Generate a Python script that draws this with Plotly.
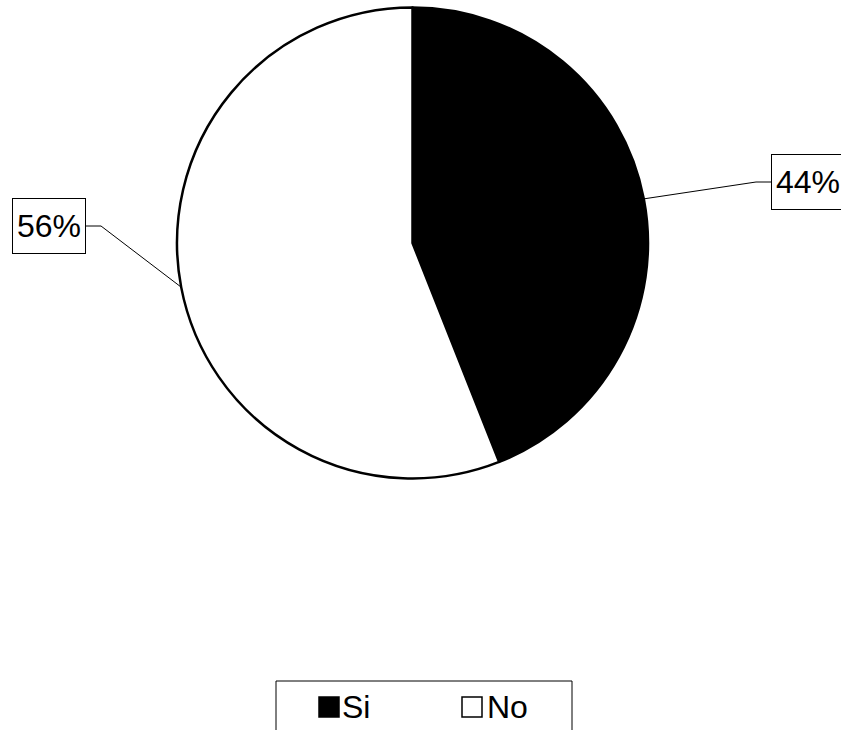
import math
import plotly.graph_objects as go

# ---- data ----
labels = ["Si", "No"]
values = [44, 56]
colors = ["#000000", "#ffffff"]
text_labels = ["44%", "56%"]

# ---- layout constants (pixels) ----
W, H = 841, 730
CX, CY, R = 412.5, 243.0, 235.5
FONT = "Liberation Sans, Arial, sans-serif"
FS = 32

def px(x):
    return x / W

def py(y):
    return 1 - y / H

fig = go.Figure(go.Pie(
    labels=labels, values=values, sort=False, direction="clockwise", rotation=0,
    marker=dict(colors=colors, line=dict(color="black", width=2.5)),
    textinfo="none", hoverinfo="label+percent", showlegend=False,
    domain=dict(x=[px(CX - R), px(CX + R)], y=[py(CY + R), py(CY - R)]),
))

# label boxes: (box anchor x, box center y, side)
label_pos = [(771, 182, "left"), (86, 226, "right")]
shapes = []
annotations = []
total = sum(values)
cum = 0
for v, t, (bx, by, side) in zip(values, text_labels, label_pos):
    mid = (cum + v / 2) / total * 2 * math.pi
    cum += v
    ex = CX + R * math.sin(mid)
    ey = CY - R * math.cos(mid)
    kx = bx - 15 if side == "left" else bx + 15
    path = f"M {px(ex)},{py(ey)} L {px(kx)},{py(by)} L {px(bx)},{py(by)}"
    shapes.append(dict(type="path", path=path, xref="paper", yref="paper",
                       line=dict(color="black", width=1)))
    annotations.append(dict(
        x=px(bx), y=py(by), xref="paper", yref="paper",
        xanchor=side, yanchor="middle", text=t, showarrow=False,
        font=dict(family=FONT, size=FS, color="black"),
        bordercolor="black", borderwidth=1, borderpad=0,
        width=72, height=54, bgcolor="white",
    ))

# legend (drawn manually)
shapes.append(dict(type="rect", xref="paper", yref="paper",
                   x0=px(276), x1=px(572), y0=py(745), y1=py(681),
                   line=dict(color="black", width=1), fillcolor="white"))
leg_items = [(319, 348), (462, 493)]
for (sx, tx), lab, col in zip(leg_items, labels, colors):
    shapes.append(dict(type="rect", xref="paper", yref="paper",
                       x0=px(sx), x1=px(sx + 20), y0=py(717), y1=py(697),
                       line=dict(color="black", width=1.5), fillcolor=col))
    annotations.append(dict(
        x=px(tx - 8), y=py(707), xref="paper", yref="paper",
        xanchor="left", yanchor="middle", text=lab, showarrow=False,
        font=dict(family=FONT, size=FS, color="black"),
    ))

fig.update_layout(
    width=W, height=H, margin=dict(l=0, r=0, t=0, b=0, autoexpand=False),
    paper_bgcolor="white", plot_bgcolor="white",
    shapes=shapes, annotations=annotations,
)
fig.write_html("out.html")
